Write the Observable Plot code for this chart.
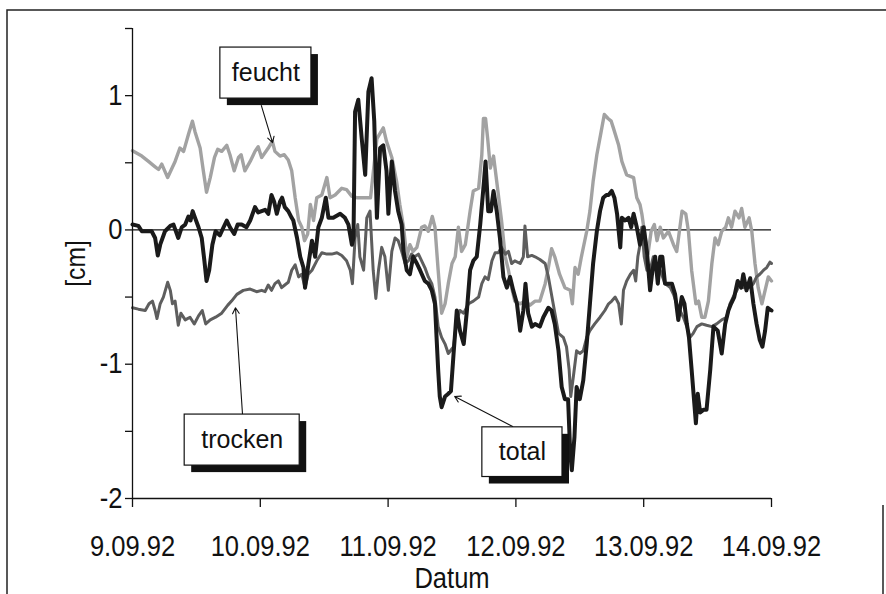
<!DOCTYPE html>
<html><head><meta charset="utf-8">
<script src="https://cdn.jsdelivr.net/npm/d3@7"></script>
<script src="https://cdn.jsdelivr.net/npm/@observablehq/plot@0.6"></script>
<style>
body{margin:0;background:#fff}
#chart{width:886px;height:594px;overflow:hidden;position:relative}
</style>
</head><body><div id="chart"></div>
<script>
// ---- data (hours since 9.09.92 00:00, value in cm) ----
const xTickHours = [0, 24, 48, 72, 96, 120];
const xTickLabels = ["9.09.92", "10.09.92", "11.09.92", "12.09.92", "13.09.92", "14.09.92"];
const yTickValues = [-2, -1.5, -1, -0.5, 0, 0.5, 1, 1.5];
const yTickLabels = ["-2", "", "-1", "", "0", "", "1", ""];

const feucht = [[0,0.59],[1.75,0.55],[3,0.51],[4.25,0.47],[4.9,0.45],[5.5,0.49],[6.6,0.39],[8,0.51],[8.9,0.61],[9.6,0.585],[10.5,0.71],[11.25,0.81],[11.75,0.73],[12.7,0.61],[13.3,0.44],[13.9,0.28],[14.6,0.39],[15.4,0.54],[16,0.6],[16.75,0.585],[17.7,0.63],[18.3,0.56],[19.1,0.44],[19.9,0.54],[20.4,0.56],[21.1,0.44],[22.1,0.51],[23,0.585],[23.6,0.62],[24.25,0.54],[25.5,0.61],[26.25,0.66],[26.75,0.585],[27.7,0.55],[28.5,0.56],[29.25,0.52],[29.9,0.44],[30.55,0.24],[31.2,0.07],[31.8,0.02],[32.3,-0.08],[32.9,-0.03],[33.4,0.19],[34,0.07],[34.6,0.24],[35.55,0.26],[36.5,0.39],[37.1,0.24],[38.05,0.26],[39.3,0.31],[40.2,0.3],[41.2,0.25],[42.1,0.24],[43.05,0.24],[44.7,0.24],[45.9,0.68],[47.1,0.76],[47.7,0.66],[48.7,0.54],[49.6,0.36],[50.2,0.19],[50.9,0.02],[51.5,-0.2],[52.1,-0.11],[52.7,-0.16],[53.4,-0.13],[54.3,0.02],[54.9,0.03],[55.55,-0.01],[56.3,0.1],[56.8,0.02],[57.4,-0.3],[58.05,-0.62],[58.7,-0.55],[59.3,-0.4],[60,-0.25],[60.6,-0.2],[61.2,0.02],[61.8,-0.16],[62.5,-0.11],[63.4,0.14],[64,0.29],[65,0.31],[65.6,0.56],[65.9,0.83],[66.3,0.83],[66.7,0.68],[67.2,0.46],[67.8,0.55],[68.4,0.36],[69.3,0.07],[70,-0.2],[70.6,-0.3],[71.2,-0.43],[71.8,-0.53],[72.8,-0.55],[73.7,-0.53],[74.65,-0.56],[75.6,-0.53],[76.5,-0.53],[77.5,-0.4],[78.1,-0.28],[78.7,-0.14],[79.3,-0.2],[80.2,-0.33],[81.2,-0.43],[82.2,-0.45],[82.6,-0.55],[83.1,-0.28],[83.7,-0.33],[84.3,-0.2],[85.3,-0.01],[85.9,0.14],[86.5,0.36],[87.2,0.56],[88,0.73],[88.6,0.86],[89.3,0.83],[89.9,0.81],[90.3,0.76],[91.3,0.63],[91.9,0.51],[92.8,0.41],[94.1,0.39],[94.7,0.24],[95.3,0.19],[95.65,0.12],[96.3,-0.06],[96.8,-0.18],[97.4,-0.01],[98,0.04],[98.5,-0.08],[99.1,0.02],[99.7,-0.06],[100.65,-0.01],[101.6,-0.11],[102.2,-0.16],[103.2,0.14],[103.9,0.12],[104.4,-0.01],[105,-0.3],[105.8,-0.55],[106.3,-0.53],[106.9,-0.65],[107.5,-0.65],[108.15,-0.53],[108.8,-0.25],[109.4,-0.06],[110,-0.11],[110.65,-0.01],[111.4,0.02],[111.9,0.09],[112.5,0.02],[113.15,0.14],[113.9,0.09],[114.4,0.16],[115,0.02],[115.8,0.09],[116.3,-0.01],[116.9,-0.25],[117.5,-0.43],[118.2,-0.55],[118.8,-0.45],[119.4,-0.35],[120,-0.38]];

const trocken = [[0,-0.58],[1.1,-0.59],[2.4,-0.6],[3.1,-0.55],[3.75,-0.53],[4.25,-0.6],[4.6,-0.66],[5.2,-0.55],[5.8,-0.5],[6.6,-0.39],[7.1,-0.45],[7.5,-0.55],[8,-0.53],[8.6,-0.71],[9.1,-0.62],[9.9,-0.67],[10.8,-0.65],[11.6,-0.7],[12.4,-0.64],[13.1,-0.6],[13.75,-0.7],[14.6,-0.67],[15.6,-0.65],[16.75,-0.62],[17.9,-0.56],[18.6,-0.53],[19.6,-0.48],[20.8,-0.45],[22.1,-0.44],[23.3,-0.46],[24.25,-0.45],[24.9,-0.46],[25.5,-0.41],[26.1,-0.45],[26.75,-0.4],[27.4,-0.38],[28,-0.43],[28.6,-0.41],[29.25,-0.39],[29.9,-0.3],[30.55,-0.26],[31.2,-0.35],[31.8,-0.33],[32.4,-0.43],[33,-0.33],[33.7,-0.3],[34.6,-0.23],[35.55,-0.17],[36.5,-0.18],[37.4,-0.18],[38.4,-0.17],[39.3,-0.19],[40.2,-0.23],[40.9,-0.3],[41.3,-0.4],[41.8,-0.06],[42.3,0.04],[42.7,-0.2],[43.4,-0.3],[44,0.09],[44.6,0.14],[45.2,-0.3],[45.7,-0.51],[46.2,-0.3],[46.8,-0.13],[47.4,-0.2],[48.05,-0.45],[48.7,-0.16],[49.3,-0.06],[49.9,-0.08],[50.55,-0.16],[51.2,-0.25],[51.8,-0.23],[52.4,-0.18],[53,-0.2],[53.7,-0.18],[54.3,-0.23],[54.9,-0.28],[55.55,-0.35],[56.2,-0.4],[56.8,-0.5],[57.4,-0.72],[58.05,-0.8],[58.7,-0.85],[59.3,-0.92],[60.3,-0.87],[60.9,-0.67],[61.5,-0.6],[62.2,-0.62],[63.1,-0.55],[64,-0.53],[65,-0.5],[65.6,-0.4],[66.2,-0.35],[66.8,-0.37],[67.5,-0.23],[68.1,-0.17],[68.7,-0.17],[69.3,-0.13],[70,-0.18],[70.6,-0.16],[71.2,-0.25],[71.8,-0.23],[72.8,-0.25],[73.4,-0.2],[73.7,0.03],[74.2,-0.2],[75,-0.19],[75.6,-0.2],[76.5,-0.22],[77.5,-0.25],[78.1,-0.35],[79,-0.55],[80,-0.77],[80.9,-0.8],[81.5,-0.87],[82,-1.04],[82.3,-1.24],[82.8,-1.09],[83.4,-0.9],[84,-0.92],[84.65,-0.9],[85.3,-0.8],[85.9,-0.75],[86.8,-0.7],[87.8,-0.65],[88.7,-0.6],[89.4,-0.55],[90,-0.53],[90.65,-0.5],[91.3,-0.55],[91.8,-0.7],[92.2,-0.45],[92.8,-0.38],[93.5,-0.33],[94.1,-0.3],[94.5,-0.38],[94.9,-0.2],[95.3,-0.11],[95.65,0.02],[96.1,-0.2],[96.6,-0.3],[97.2,-0.3],[97.8,-0.2],[98.5,-0.3],[99.1,-0.3],[100,-0.4],[101,-0.43],[101.6,-0.48],[102.2,-0.55],[102.8,-0.6],[103.45,-0.65],[104.1,-0.72],[104.7,-0.8],[105.3,-0.77],[106,-0.72],[106.9,-0.7],[107.8,-0.71],[108.8,-0.72],[109.7,-0.7],[110.65,-0.67],[111.6,-0.65],[112.2,-0.55],[112.8,-0.5],[113.5,-0.45],[114.1,-0.4],[114.7,-0.43],[115.3,-0.4],[116,-0.43],[116.6,-0.4],[117.2,-0.35],[117.8,-0.33],[118.5,-0.3],[119.1,-0.28],[119.7,-0.24],[120,-0.25]];

const total = [[0,0.04],[1.1,0.03],[1.75,-0.01],[2.7,-0.01],[3.6,-0.01],[4.25,-0.06],[4.75,-0.19],[5.2,-0.11],[6.1,-0.01],[7.1,0.03],[7.7,0.04],[8.6,-0.06],[9.25,0.02],[9.9,0.04],[10.5,0.1],[10.9,0.07],[11.3,0.14],[11.75,0.09],[12.4,0.02],[13,-0.06],[13.5,-0.23],[13.9,-0.38],[14.4,-0.3],[15,-0.11],[15.6,-0.01],[16.4,-0.04],[17.1,0.02],[17.7,0.07],[18.3,0.02],[19.1,-0.03],[19.75,0.04],[20.5,0.04],[21.4,0.02],[22.1,0.07],[23,0.17],[23.6,0.13],[24.25,0.14],[24.9,0.15],[25.5,0.12],[26.1,0.26],[26.6,0.21],[27.1,0.12],[27.7,0.21],[28.1,0.24],[28.6,0.17],[29.25,0.14],[29.9,0.09],[30.2,0.07],[30.9,-0.06],[31.5,-0.2],[32.1,-0.28],[32.4,-0.43],[33.05,-0.25],[33.7,-0.08],[34.3,-0.2],[34.9,0.02],[35.55,0.09],[36.3,0.24],[36.8,0.09],[37.7,0.09],[39,0.12],[39.9,0.09],[40.55,0.04],[41.2,-0.11],[41.5,-0.06],[41.8,0.88],[42.4,0.97],[43.05,0.68],[43.7,0.41],[44.3,1.03],[44.9,1.13],[45.4,0.81],[45.9,0.09],[46.5,0.61],[47.1,0.63],[47.7,0.44],[48.05,0.12],[48.7,0.51],[49.3,0.29],[49.9,0.14],[50.55,0.04],[50.9,-0.16],[51.5,-0.3],[52.1,-0.33],[52.7,-0.2],[53.4,-0.25],[54,-0.3],[54.9,-0.38],[55.55,-0.4],[56.2,-0.45],[56.8,-0.55],[57.1,-0.8],[57.4,-1.04],[57.7,-1.24],[58.05,-1.32],[58.7,-1.24],[59.3,-1.22],[59.8,-1.2],[60.3,-0.92],[60.9,-0.6],[61.5,-0.75],[62.2,-0.85],[62.8,-0.6],[63.4,-0.3],[64,-0.23],[64.65,-0.2],[65.3,0.04],[66,0.36],[66.3,0.51],[66.8,0.14],[67.3,0.14],[67.8,0.29],[68.4,0.14],[69,-0.06],[69.65,-0.35],[70.3,-0.43],[70.9,-0.35],[71.5,-0.45],[72.2,-0.55],[72.8,-0.75],[73.4,-0.6],[73.8,-0.4],[74.3,-0.62],[75,-0.72],[75.6,-0.7],[76.5,-0.72],[77.15,-0.65],[78.1,-0.58],[78.7,-0.6],[79.3,-0.7],[80,-0.9],[80.6,-1.17],[81.2,-1.26],[81.8,-1.26],[82.2,-1.66],[82.5,-1.79],[83,-1.54],[83.4,-1.17],[84,-1.26],[84.65,-1.12],[85.3,-0.85],[85.9,-0.55],[86.5,-0.25],[87.2,-0.01],[87.8,0.14],[88.4,0.24],[89,0.26],[89.4,0.26],[90,0.29],[90.5,0.24],[91,0.12],[91.6,-0.13],[91.9,0.09],[92.5,0.07],[93.15,0.09],[93.65,0.02],[94.1,0.12],[94.7,0.02],[95.3,-0.11],[96,0.02],[96.6,-0.16],[97.2,-0.45],[97.65,-0.3],[98.15,-0.2],[98.65,-0.4],[99.1,-0.2],[99.5,-0.2],[100,-0.4],[100.65,-0.4],[101.3,-0.4],[101.9,-0.48],[102.5,-0.67],[103.15,-0.5],[103.65,-0.55],[104.1,-0.7],[104.5,-0.8],[105,-1.04],[105.5,-1.29],[105.8,-1.44],[106.15,-1.22],[106.6,-1.36],[107.2,-1.34],[107.8,-1.34],[108.5,-1.04],[109.1,-0.72],[109.9,-0.75],[110.65,-0.92],[111.3,-0.7],[111.9,-0.6],[112.4,-0.55],[113,-0.5],[113.65,-0.38],[114.3,-0.43],[114.7,-0.33],[115.3,-0.45],[116,-0.36],[116.6,-0.55],[117.2,-0.7],[117.8,-0.82],[118.3,-0.87],[118.8,-0.75],[119.3,-0.58],[120,-0.6]];

const seriesNames = ["feucht", "trocken", "total"];

// ---- layout / styles ----
const axisFont = "'Liberation Sans', Arial, Helvetica, sans-serif";
const labelFont = "'Liberation Sans', Arial, Helvetica, sans-serif";
const axisCondense = 0.88; // the reference uses a condensed face for the axis texts
const seriesStyle = {
  feucht: {stroke: "#a2a2a2", width: 3.4},
  trocken: {stroke: "#5e5e5e", width: 3},
  total: {stroke: "#1a1a1a", width: 4}
};
const notes = [
  {label: "feucht", x1: 16.5, x2: 33.6, y1: 0.978, y2: 1.358, ax1: 24.2, ay1: 0.926, ax2: 26.3, ay2: 0.65},
  {label: "trocken", x1: 9.8, x2: 31.4, y1: -1.755, y2: -1.375, ax1: 20.66, ay1: -1.375, ax2: 19.34, ay2: -0.58},
  {label: "total", x1: 65.7, x2: 80.75, y1: -1.84, y2: -1.47, ax1: 71.4, ay1: -1.464, ax2: 60.5, ay2: -1.24}
];

const lineMarks = seriesNames.map(name => {
  const data = {feucht, trocken, total}[name];
  return Plot.line(data, {x: d => d[0], y: d => d[1], stroke: seriesStyle[name].stroke,
    strokeWidth: seriesStyle[name].width, strokeLinejoin: "round", strokeLinecap: "round"});
});

const chart = Plot.plot({
  width: 886, height: 594,
  marginLeft: 132, marginRight: 115, marginTop: 28, marginBottom: 96,
  x: {domain: [0, 120]},
  y: {domain: [-2, 1.5]},
  style: {background: "#fff", color: "#111"},
  marks: [
    Plot.ruleY([0], {x1: 0, x2: 120, stroke: "#111", strokeWidth: 1.3}),
    ...lineMarks,
    Plot.ruleX([0], {y1: -2, y2: 1.5, stroke: "#111", strokeWidth: 1.3}),
    Plot.ruleY([-2], {x1: 0, x2: 120, stroke: "#111", strokeWidth: 1.6}),
    Plot.axisY({ticks: yTickValues, tickFormat: d => yTickLabels[yTickValues.indexOf(d)],
      tickSize: 7, tickPadding: 3, label: null, fontSize: 29, fontFamily: axisFont, strokeWidth: 1.3,
      className: "condensed"}),
    Plot.axisX({ticks: xTickHours, tickFormat: d => xTickLabels[xTickHours.indexOf(d)],
      tickSize: 9, tickPadding: 28, label: null, fontSize: 29, fontFamily: axisFont, strokeWidth: 1.3}),
    Plot.text(["Datum"], {frameAnchor: "bottom", lineAnchor: "middle", textAnchor: "middle", dy: 80,
      fontSize: 29, fontFamily: axisFont, fill: "#111"}),
    Plot.text(["[cm]"], {frameAnchor: "left", textAnchor: "middle", lineAnchor: "middle", rotate: -90, dx: -56,
      fontSize: 28, fontFamily: axisFont, fill: "#111"}),
    Plot.arrow(notes, {x1: "ax1", y1: "ay1", x2: "ax2", y2: "ay2", stroke: "#111", strokeWidth: 1.1, headLength: 9}),
    Plot.rect(notes, {x1: "x1", x2: "x2", y1: "y1", y2: "y2", fill: "#111", dx: 7, dy: 7}),
    Plot.rect(notes, {x1: "x1", x2: "x2", y1: "y1", y2: "y2", fill: "#fff", stroke: "#111", strokeWidth: 1.2}),
    Plot.text(notes, {x: d => (d.x1 + d.x2) / 2, y: d => (d.y1 + d.y2) / 2, text: "label",
      fontSize: 25, fontFamily: labelFont, fill: "#111"})
  ]
});
document.getElementById("chart").append(chart);

// condense the axis texts (tick labels, axis titles) horizontally
const svg = d3.select(chart);
svg.selectAll("text").each(function() {
  const t = this.textContent;
  if (["feucht", "trocken", "total"].includes(t) || !t) return;
  const len = this.getComputedTextLength();
  if (len > 0) {
    this.setAttribute("textLength", (len * axisCondense).toFixed(1));
    this.setAttribute("lengthAdjust", "spacingAndGlyphs");
  }
});

// outer frame of the figure
svg.append("path").attr("d", "M7,594 L7,10 L886,10").attr("fill", "none").attr("stroke", "#222").attr("stroke-width", 1.5);
svg.append("path").attr("d", "M883,505 L883,594").attr("fill", "none").attr("stroke", "#222").attr("stroke-width", 1.5);
</script>
</body></html>
